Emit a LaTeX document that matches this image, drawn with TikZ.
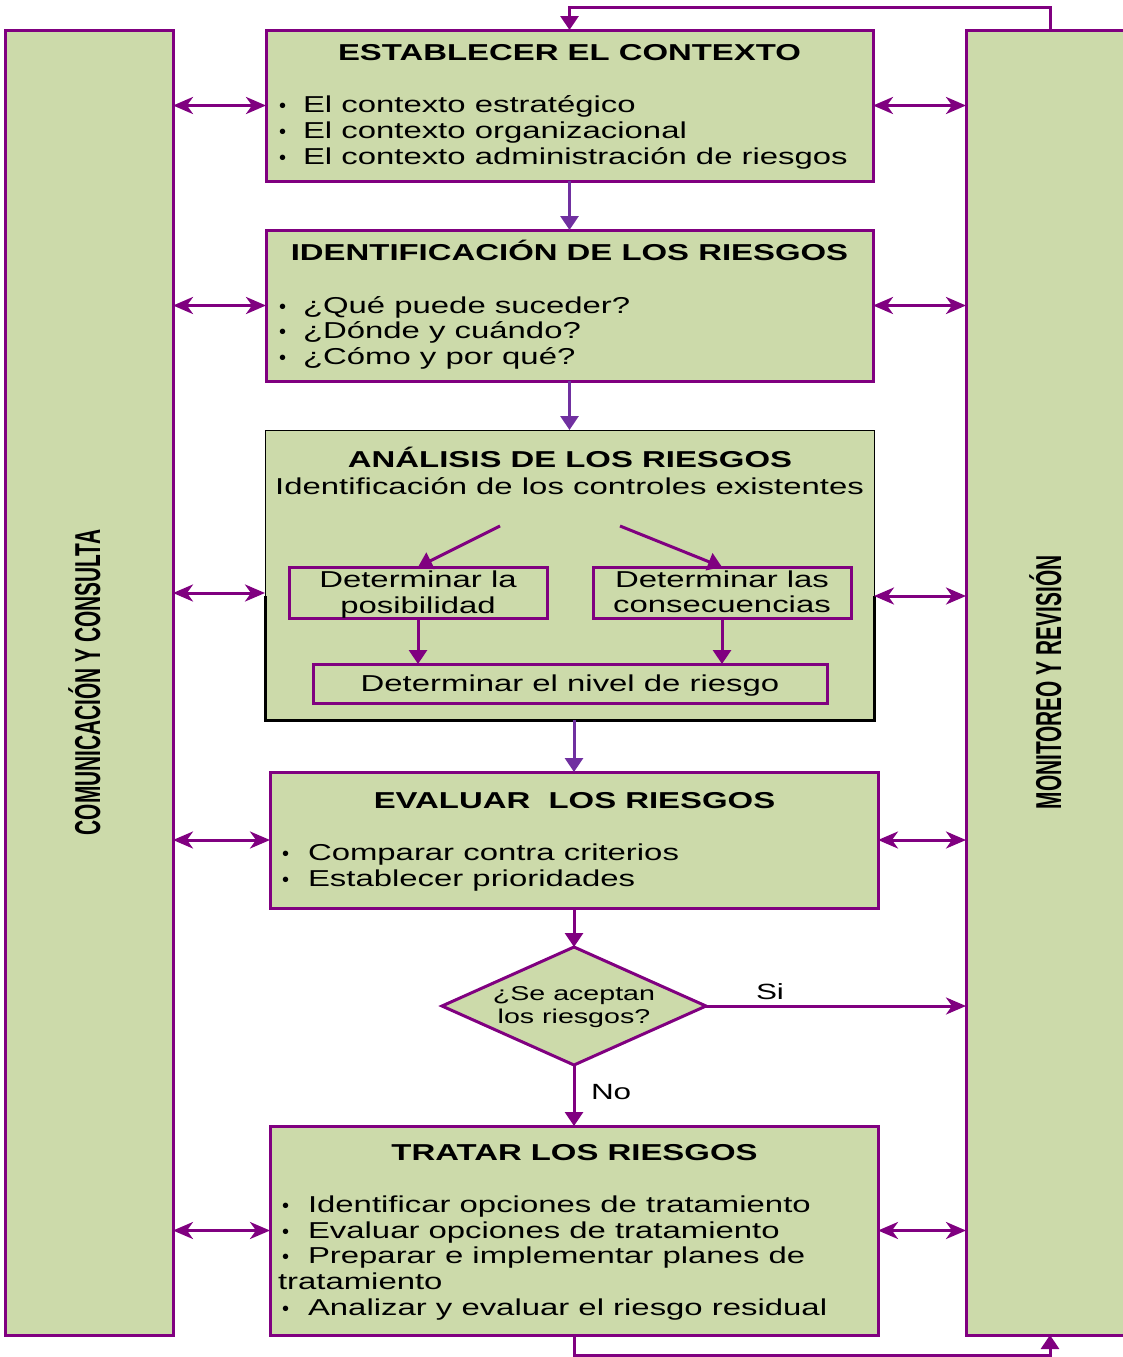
\documentclass[tikz,border=0pt]{standalone}
\usepackage{fontspec}
\setmainfont{Liberation Sans}
\newfontfamily\bodyf[FakeStretch=1.43]{Liberation Sans}
\newfontfamily\bulf{Liberation Sans}
\newfontfamily\vertf[FakeStretch=0.58]{Liberation Sans}
\usetikzlibrary{arrows.meta,shapes.geometric}
\definecolor{boxgreen}{RGB}{204,218,170}
\definecolor{pur}{RGB}{128,0,128}
\definecolor{vio}{RGB}{112,48,160}
\newcommand\bulA{\makebox[25pt][l]{\hspace{1pt}{\bulf\fontsize{20}{26}\selectfont •}}}
\newcommand\bulB{\makebox[27pt][l]{\hspace{1pt}{\bulf\fontsize{20}{26}\selectfont •}}}
\begin{document}
\begin{tikzpicture}[x=1pt,y=-1pt,
  box/.style={draw=pur, fill=boxgreen, line width=3pt, rectangle, inner sep=0pt, outer sep=0pt},
  ibox/.style={draw=pur, line width=3pt, rectangle, inner sep=0pt, outer sep=0pt},
  txt/.style={inner sep=0pt, outer sep=0pt, font=\bodyf\fontsize{23}{26}\selectfont},
  ttl/.style={inner sep=0pt, outer sep=0pt, font=\bodyf\bfseries\fontsize{23}{26}\selectfont},
  sml/.style={inner sep=0pt, outer sep=0pt, font=\bodyf\fontsize{20}{23}\selectfont},
  vtxt/.style={inner sep=0pt, outer sep=0pt, rotate=90, anchor=base, font=\vertf\bfseries\fontsize{36}{40}\selectfont},
  dbl/.style={draw=pur, line width=3pt, {Stealth[length=20pt,width=17pt,inset=6pt]}-{Stealth[length=20pt,width=17pt,inset=6pt]}},
  sa/.style={draw=pur, line width=3pt, -{Stealth[length=20pt,width=17pt,inset=6pt]}},
  dn/.style={draw=pur, line width=3pt, -{Triangle[length=14pt,width=18pt]}},
  dnv/.style={draw=vio, line width=3pt, -{Triangle[length=14pt,width=18pt]}},
]
\useasboundingbox (0,0) rectangle (1123,1357);

% side columns
\node[box, minimum width=168pt, minimum height=1305pt] (cc) at (89,682.5) {};
\node[box, minimum width=164pt, minimum height=1305pt] (mr) at (1048,682.5) {};
\node[vtxt] (cct) at (100,682.5) {COMUNICACIÓN Y CONSULTA};
\node[vtxt] (mrt) at (1061,682.5) {MONITOREO Y REVISIÓN};

% box 1
\node[box, minimum width=607pt, minimum height=151pt] (b1) at (569.5,105.5) {};
\node[ttl, anchor=base] (t1) at (569.5,60) {ESTABLECER EL CONTEXTO};
\node[txt, anchor=base west] (t1a) at (278,112) {\bulA El contexto estratégico};
\node[txt, anchor=base west] (t1b) at (278,138) {\bulA El contexto organizacional};
\node[txt, anchor=base west] (t1c) at (278,164) {\bulA El contexto administración de riesgos};

% box 2
\node[box, minimum width=607pt, minimum height=151pt] (b2) at (569.5,305.5) {};
\node[ttl, anchor=base] (t2) at (569.5,260) {IDENTIFICACIÓN DE LOS RIESGOS};
\node[txt, anchor=base west] (t2a) at (278,313) {\bulA ¿Qué puede suceder?};
\node[txt, anchor=base west] (t2b) at (278,338) {\bulA ¿Dónde y cuándo?};
\node[txt, anchor=base west] (t2c) at (278,364) {\bulA ¿Cómo y por qué?};

% box 3 (analysis)
\node[rectangle, draw=black, line width=1pt, fill=boxgreen, inner sep=0pt, outer sep=0pt,
      minimum width=609pt, minimum height=290pt] (b3) at (569.5,575) {};
\draw[black, line width=3pt] (b3.west |- 0,596) -- (b3.south west) -- (b3.south east) -- (b3.east |- 0,596);
\node[ttl, anchor=base] (t3) at (570,467) {ANÁLISIS DE LOS RIESGOS};
\node[txt, anchor=base] (t3a) at (569.5,494) {Identificación de los controles existentes};
\node[ibox, minimum width=258pt, minimum height=51pt] (ib1) at (418,592.5) {};
\node[ibox, minimum width=258pt, minimum height=51pt] (ib2) at (722,592.5) {};
\node[ibox, minimum width=514pt, minimum height=39pt] (ib3) at (570,683.5) {};
\node[txt, anchor=base] (i1a) at (418,587) {Determinar la};
\node[txt, anchor=base] (i1b) at (418,613) {posibilidad};
\node[txt, anchor=base] (i2a) at (722,587) {Determinar las};
\node[txt, anchor=base] (i2b) at (722,612) {consecuencias};
\node[txt, anchor=base] (i3) at (570,691) {Determinar el nivel de riesgo};
\coordinate (s1) at (500,526);
\coordinate (s2) at (620,526);
\draw[dn] (s1) -- (ib1.north);
\draw[dn] (s2) -- (ib2.north);
\draw[dn] (ib1.south) -- (ib1.south |- ib3.north);
\draw[dn] (ib2.south) -- (ib2.south |- ib3.north);

% box 4
\node[box, minimum width=608pt, minimum height=136pt] (b4) at (574,840) {};
\node[ttl, anchor=base] (t4) at (574.5,808) {EVALUAR\ \ LOS RIESGOS};
\node[txt, anchor=base west] (t4a) at (281,860) {\bulB Comparar contra criterios};
\node[txt, anchor=base west] (t4b) at (281,886) {\bulB Establecer prioridades};

% decision
\node[diamond, draw=pur, fill=boxgreen, line width=3pt, inner sep=0pt, outer sep=0pt,
      minimum width=264pt, minimum height=118pt] (dm) at (574,1006) {};
\node[sml, anchor=base] (d1) at (574,1000) {¿Se aceptan};
\node[sml, anchor=base] (d2) at (574,1023) {los riesgos?};

% box 5
\node[box, minimum width=608pt, minimum height=209pt] (b5) at (574,1230.5) {};
\node[ttl, anchor=base] (t5) at (574.5,1160) {TRATAR LOS RIESGOS};
\node[txt, anchor=base west] (t5a) at (281,1212) {\bulB Identificar opciones de tratamiento};
\node[txt, anchor=base west] (t5b) at (281,1238) {\bulB Evaluar opciones de tratamiento};
\node[txt, anchor=base west] (t5c) at (281,1263) {\bulB Preparar e implementar planes de};
\node[txt, anchor=base west] (t5d) at (278,1289) {tratamiento};
\node[txt, anchor=base west] (t5e) at (281,1315) {\bulB Analizar y evaluar el riesgo residual};

% main flow
\draw[dnv] (b1.south) -- (b2.north);
\draw[dnv] (b2.south) -- (b3.north);
\draw[dnv] (b4.north |- b3.south) -- (b4.north);
\draw[dn] (b4.south) -- (dm.north);
\draw[dn] (dm.south) -- (b5.north);
\node[txt, anchor=base west, font=\bodyf\fontsize{22}{26}\selectfont] (no) at (591,1099) {No};
\draw[sa] (dm.east) -- (dm.east -| mr.west);
\node[txt, anchor=base west, font=\bodyf\fontsize{22}{26}\selectfont] (si) at (756,999) {Si};

% feedback loops
\coordinate (tl) at (1050,7);
\coordinate (bl) at (1050,1355);
\draw[dn] (mr.north -| tl) -- (tl) -- (tl -| b1.north) -- (b1.north);
\draw[dn] (b5.south) -- (b5.south |- bl) -- (bl) -- (mr.south -| bl);

% communication arrows
\draw[dbl] (cc.east |- b1.west) -- (b1.west);
\draw[dbl] (cc.east |- b2.west) -- (b2.west);
\draw[dbl] (cc.east |- 0,593) -- (b3.west |- 0,593);
\draw[dbl] (cc.east |- b4.west) -- (b4.west);
\draw[dbl] (cc.east |- b5.west) -- (b5.west);
\draw[dbl] (b1.east) -- (b1.east -| mr.west);
\draw[dbl] (b2.east) -- (b2.east -| mr.west);
\draw[dbl] (b3.east |- 0,596) -- (mr.west |- 0,596);
\draw[dbl] (b4.east) -- (b4.east -| mr.west);
\draw[dbl] (b5.east) -- (b5.east -| mr.west);
\end{tikzpicture}
\end{document}
